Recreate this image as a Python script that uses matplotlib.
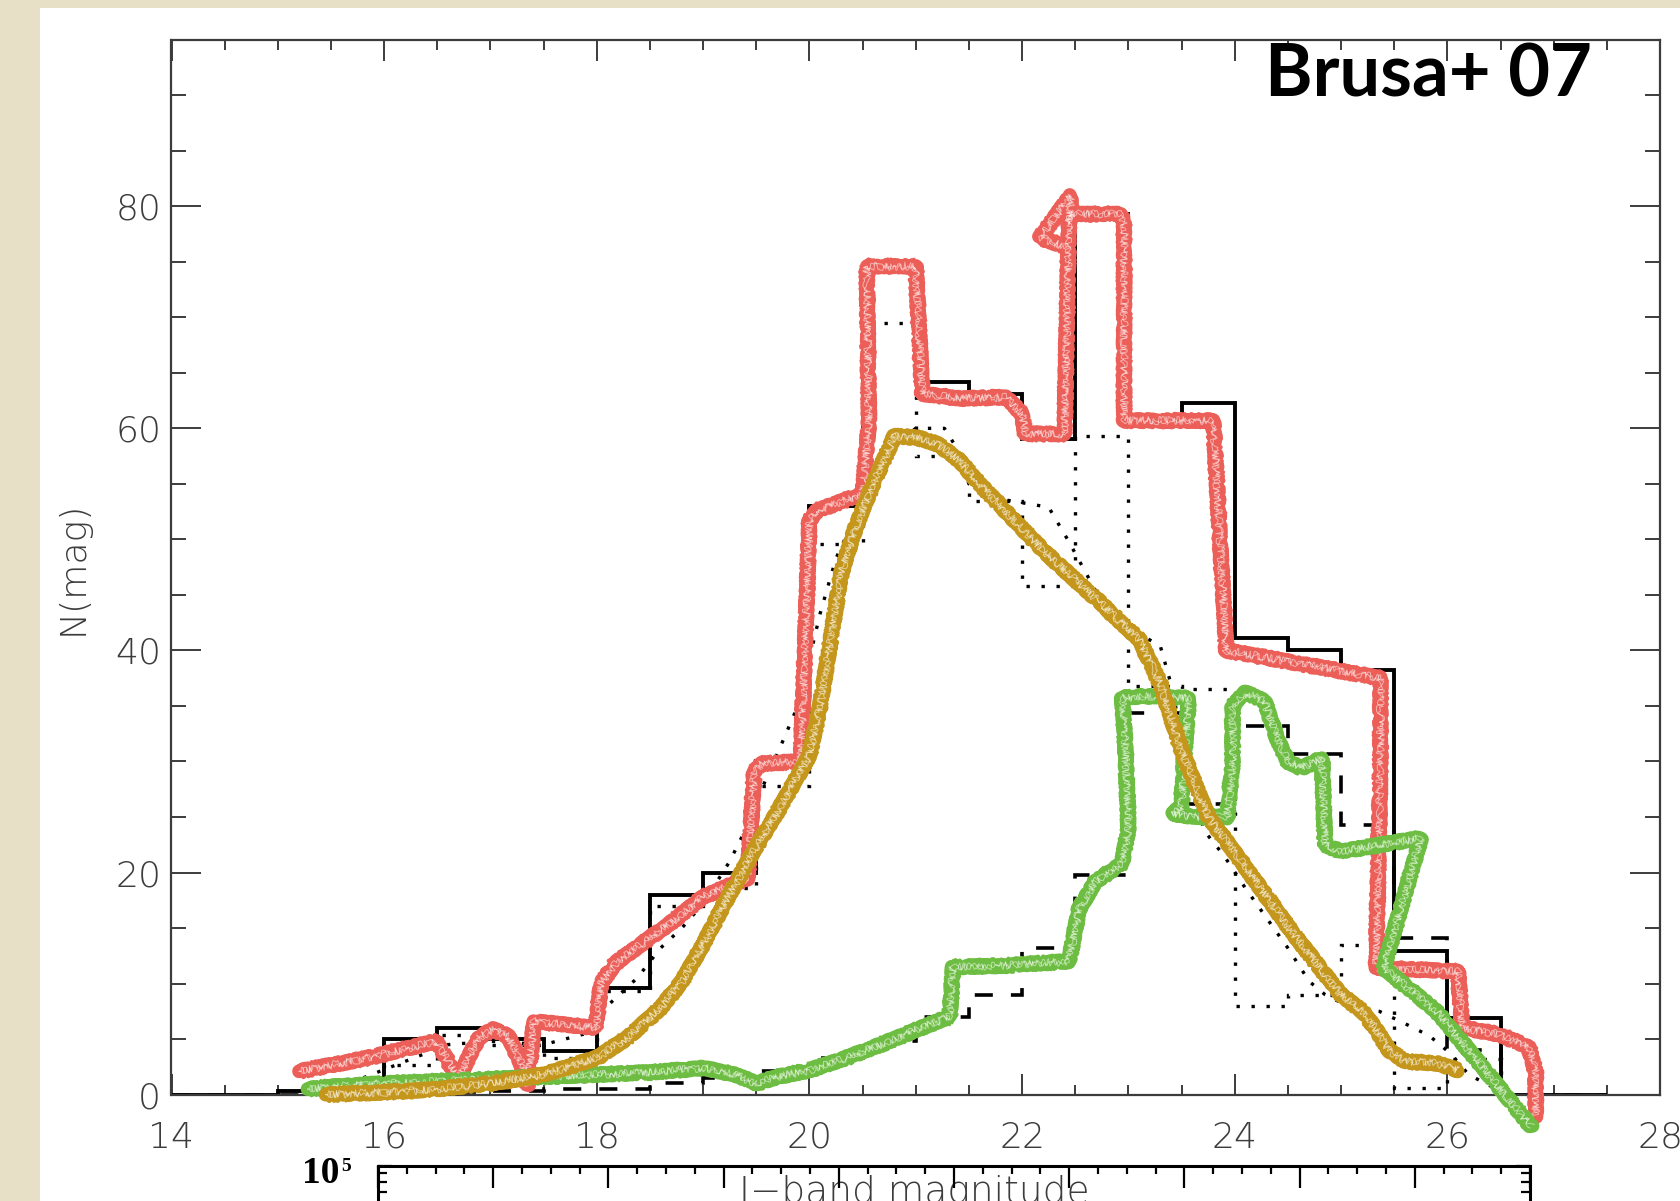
"""I-band magnitude distribution (Brusa+ 07) with hand-drawn overlays."""

import matplotlib

matplotlib.use("Agg")
import matplotlib.pyplot as plt
from matplotlib.patches import Rectangle
from matplotlib.ticker import MultipleLocator, LogLocator, NullFormatter

W, H = 1681, 1201

# histogram bins (I-band magnitude)
bin_edges = [14.0, 14.5, 15.0, 15.5, 16.0, 16.5, 17.0, 17.5, 18.0, 18.5,
             19.0, 19.5, 20.0, 20.5, 21.0, 21.5, 22.0, 22.5, 23.0, 23.5,
             24.0, 24.5, 25.0, 25.5, 26.0, 26.5, 27.0, 27.5]
n_all = [0, 0, 0.3, 1.0, 5.0, 6.0, 5.0, 3.9, 9.6, 18.0,
         20.0, 30.0, 53.0, 74.4, 64.2, 63.1, 59.0, 79.3, 61.1, 62.3,
         41.1, 40.0, 38.2, 12.9, 6.9, 0, 0]
n_dotted = [0, 0, 0, 1.2, 2.7, 5.4, 4.5, 3.3, 9.3, 17.0,
            18.6, 27.8, 49.6, 69.5, 57.5, 53.5, 45.8, 59.3, 36.8, 36.5,
            8.0, 9.0, 13.5, 0.6, 3.2, 0, 0]
n_dashed = [0, 0, 0, 0, 0, 0.2, 0.3, 0.5, 0.5, 1.0,
            1.5, 2.1, 3.3, 4.8, 7.0, 9.0, 13.2, 19.8, 34.4, 26.2,
            33.2, 30.7, 24.3, 14.1, 4.0, 0, 0]

# dotted curve
curve_mag = [15.4, 15.8, 16.2, 16.6, 17.0, 17.5, 17.9, 18.1, 18.38, 18.6,
             18.8, 19.0, 19.25, 19.38, 19.55, 19.73, 19.9, 20.1, 20.25, 20.42,
             20.6, 20.8, 21.0, 21.27, 21.4, 21.5, 21.75, 22.0, 22.25, 22.44,
             22.69, 22.9, 23.1, 23.3, 23.4, 23.55, 23.71, 23.9, 24.1, 24.3,
             24.5, 24.7, 24.85, 25.1, 25.36, 25.6, 25.83, 26.03, 26.2, 26.44,
             26.6]
curve_n = [0.3, 1.5, 3.0, 4.5, 4.8, 4.5, 5.5, 8.0, 10.5, 13.2,
           15.0, 17.2, 21.0, 23.5, 27.5, 31.4, 35.2, 43.3, 48.3, 51.8,
           55.0, 58.5, 60.0, 60.0, 58.0, 55.0, 53.7, 53.3, 52.9, 49.8,
           45.4, 43.0, 41.5, 40.4, 37.0, 30.0, 23.8, 21.5, 18.6, 15.9,
           13.2, 10.2, 9.0, 7.8, 7.5, 6.4, 5.3, 3.7, 1.8, 0.6,
           0.0]

# hand-drawn overlays
red_mag = [15.2, 15.8, 16.49, 16.6, 16.7, 16.8, 16.9, 17.03, 17.17, 17.28,
           17.35, 17.41, 17.99, 18.04, 18.17, 18.7, 19.0, 19.42, 19.48, 19.55,
           19.92, 20.0, 20.07, 20.5, 20.56, 20.54, 21.0, 21.06, 21.42, 21.85,
           22.0, 22.03, 22.4, 22.44, 22.46, 22.93, 22.96, 22.96, 23.8, 23.92,
           25.37, 25.37, 25.33, 26.1, 26.14, 26.5, 26.77, 26.83, 26.83]
red_n = [2.1, 3.2, 4.8, 3.0, 1.4, 3.5, 5.2, 5.9, 5.2, 3.0,
         0.8, 6.6, 6.0, 10.0, 11.8, 15.5, 17.8, 19.5, 29.1, 29.8,
         30.0, 51.7, 52.6, 54.1, 60.7, 74.6, 74.6, 63.1, 62.7, 62.8,
         61.3, 59.5, 59.5, 78.4, 79.3, 79.3, 78.4, 60.7, 60.7, 40.0,
         37.5, 30.0, 11.4, 11.1, 6.0, 5.4, 4.2, 2.0, -2.0]
arrow_mag = [22.44, 22.46, 22.17, 22.42]
arrow_n = [78.4, 81.0, 77.2, 76.3]

gold_mag = [15.45, 16.0, 16.5, 17.0, 17.5, 18.0, 18.3, 18.6, 18.8, 19.0,
            19.2, 19.45, 19.7, 20.0, 20.1, 20.2, 20.3, 20.45, 20.6, 20.8,
            21.0, 21.2, 21.4, 21.6, 21.8, 22.2, 22.7, 23.1, 23.3, 23.5,
            23.75, 24.1, 24.55, 25.0, 25.2, 25.32, 25.45, 25.6, 25.9, 26.1]
gold_n = [0.0, 0.2, 0.5, 1.0, 1.8, 3.3, 5.2, 7.8, 10.2, 13.5,
          17.2, 21.5, 25.5, 30.5, 35.0, 41.0, 47.0, 51.5, 55.0, 59.3,
          59.2, 58.6, 57.2, 55.0, 53.0, 49.0, 44.6, 41.0, 37.0, 31.0,
          25.0, 20.5, 14.5, 9.0, 7.5, 6.0, 4.0, 3.0, 2.8, 2.2]

green_mag = [15.28, 15.5, 16.0, 16.5, 17.0, 17.5, 18.0, 18.5, 19.0, 19.3,
             19.5, 19.7, 20.0, 20.35, 20.8, 21.1, 21.32, 21.35, 21.8, 22.44,
             22.54, 22.69, 22.94, 23.0, 22.97, 22.94, 23.13, 23.57, 23.52, 23.5,
             23.42, 23.6, 23.93, 23.98, 23.98, 24.1, 24.28, 24.4, 24.5, 24.63,
             24.82, 24.85, 25.0, 25.75, 25.4, 25.9, 26.2, 26.5, 26.79]
green_n = [0.5, 0.7, 1.0, 1.2, 1.4, 1.6, 1.8, 2.0, 2.4, 1.8,
           1.0, 1.6, 2.2, 3.3, 5.0, 6.2, 7.0, 11.5, 11.6, 12.0,
           16.8, 19.2, 20.8, 24.0, 31.8, 35.7, 35.9, 35.7, 30.0, 26.0,
           25.3, 25.0, 25.0, 30.0, 35.0, 36.2, 35.4, 32.0, 30.0, 29.4,
           30.3, 22.5, 21.9, 23.1, 11.4, 7.5, 4.0, 0.5, -2.9]

RED = "#ec5f59"
GOLD = "#c4961c"
GREEN = "#6dbd42"
AXIS = "#3c3c3c"

plt.rcParams["font.family"] = ["DejaVu Sans"]
plt.rcParams["font.weight"] = "light"


def fx(px):
    return px / W


def fy(py):
    return 1 - py / H


def sketch(ax, x, y, color, z):
    """Thick marker-pen stroke with ragged edges and light streaks."""
    base, = ax.plot(x, y, color=color, lw=10, solid_joinstyle="round",
                    solid_capstyle="round", clip_on=False, zorder=z)
    base.set_sketch_params(1.5, 12, 20)
    for lw, scale, length in [(3.2, 6.0, 6), (2.6, 7.0, 4), (3.2, 5.0, 9),
                              (2.2, 6.5, 3)]:
        edge, = ax.plot(x, y, color=color, lw=lw, solid_capstyle="round",
                        clip_on=False, zorder=z)
        edge.set_sketch_params(scale, length, 30)
    for scale, length in [(4.0, 5), (3.0, 7)]:
        streak, = ax.plot(x, y, color="white", lw=0.7, alpha=0.5,
                          clip_on=False, zorder=z + 0.1)
        streak.set_sketch_params(scale, length, 30)


fig = plt.figure(figsize=(W / 100, H / 100), dpi=100, facecolor="#e7dfc6")
fig.patches.append(Rectangle((fx(40), 0), 1, fy(7.5), transform=fig.transFigure,
                             facecolor="white", edgecolor="none", zorder=-1))

ax = fig.add_axes([fx(171.5), fy(1094.6), fx(1660) - fx(171.5), fy(39.7) - fy(1094.6)])
ax.patch.set_alpha(0)
ax.set_xlim(14, 28)
ax.set_ylim(0, 95)

ax.stairs(n_all, bin_edges, color="black", lw=2.8, zorder=2)
ax.stairs(n_dotted, bin_edges, color="black", lw=2.4, ls=(0, (1, 3.5)), zorder=2)
ax.stairs(n_dashed, bin_edges, color="black", lw=2.6, ls=(0, (5, 5)), zorder=2)
ax.plot(curve_mag, curve_n, color="black", lw=2.4, ls=(0, (1, 3.5)), zorder=2)

sketch(ax, red_mag, red_n, RED, 5)
sketch(ax, arrow_mag, arrow_n, RED, 5)
sketch(ax, green_mag, green_n, GREEN, 6)
sketch(ax, gold_mag, gold_n, GOLD, 7)

for side in ax.spines.values():
    side.set_color(AXIS)
    side.set_linewidth(1.6)
ax.xaxis.set_major_locator(MultipleLocator(2))
ax.xaxis.set_minor_locator(MultipleLocator(0.5))
ax.yaxis.set_major_locator(MultipleLocator(20))
ax.yaxis.set_minor_locator(MultipleLocator(5))
ax.tick_params(which="both", direction="in", top=True, right=True,
               color=AXIS, width=1.4, labelcolor=AXIS, labelsize=26)
ax.tick_params(axis="x", which="major", length=15, pad=19)
ax.tick_params(axis="x", which="minor", length=7.5)
ax.tick_params(axis="y", which="major", length=21.6, pad=7.5)
ax.tick_params(axis="y", which="minor", length=10.8)

fig.text(fx(73), fy(568), "N(mag)", rotation=90, ha="center", va="center",
         fontsize=26, color=AXIS)
fig.text(fx(914), fy(1203), "I\u2212band magnitude", ha="center", va="baseline",
         fontsize=27, color=AXIS)
fig.text(fx(1429), fy(96.5), "Brusa+ 07", ha="center", va="baseline",
         fontsize=52, fontweight="bold", family="Lato", color="black")

# lower panel, only its upper edge falls inside the frame
ax2 = fig.add_axes([fx(378), fy(1165.5 + 340), fx(1530) - fx(378), 340 / H])
ax2.patch.set_alpha(0)
ax2.set_zorder(5)
ax2.set_xlim(0, 10)
ax2.set_yscale("log")
ax2.set_ylim(1e3, 1e5)
for side in ax2.spines.values():
    side.set_color("black")
    side.set_linewidth(2.2)
ax2.xaxis.set_major_locator(MultipleLocator(1))
ax2.xaxis.set_minor_locator(MultipleLocator(0.25))
ax2.yaxis.set_major_locator(LogLocator(base=10))
ax2.yaxis.set_minor_locator(LogLocator(base=10, subs=range(2, 10)))
ax2.yaxis.set_minor_formatter(NullFormatter())
ax2.tick_params(which="both", direction="in", top=True, bottom=False, right=True,
                labelleft=False, labelbottom=False, color="black", width=1.6)
ax2.tick_params(axis="x", which="major", length=15.6)
ax2.tick_params(axis="x", which="minor", length=6)
ax2.tick_params(axis="y", which="major", length=10)
ax2.tick_params(axis="y", which="minor", length=6.5)

fig.text(fx(302), fy(1183), "10", family="Liberation Serif", fontweight="bold",
         fontsize=27, va="baseline", color="black")
fig.text(fx(341), fy(1171), "5", family="Liberation Serif", fontweight="bold",
         fontsize=14, va="baseline", color="black")

fig.savefig("out.png", dpi=100, facecolor=fig.get_facecolor())
